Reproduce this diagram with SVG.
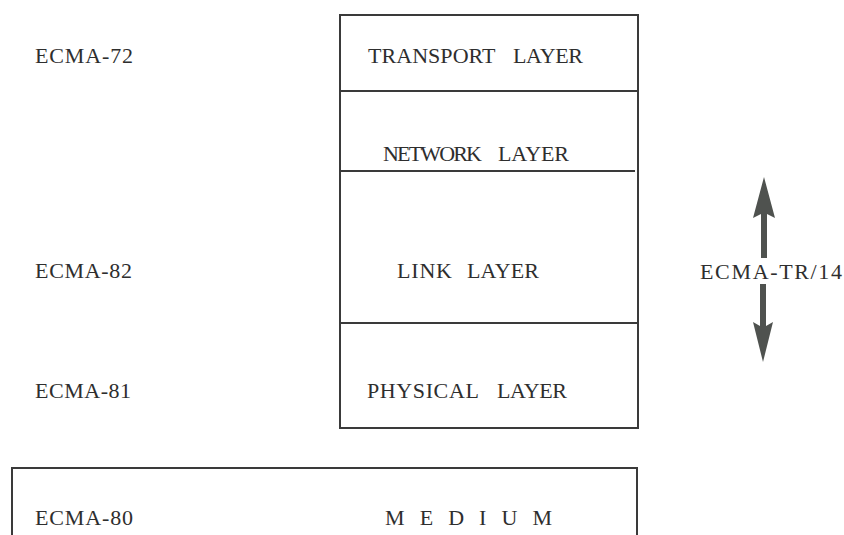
<svg xmlns="http://www.w3.org/2000/svg" width="844" height="535" viewBox="0 0 844 535">
<style>
.t{font-family:"Liberation Serif","Times New Roman",serif;font-size:22px;fill:#2e2e2e}
.b{fill:none;stroke:#3a3a3a;stroke-width:2}
.a{fill:#4f524f}
</style>
<rect width="844" height="535" fill="#ffffff"/>
<g id="stack">
<rect class="b" x="340" y="15" width="298" height="413"/>
<line class="b" x1="340" y1="91" x2="638" y2="91"/>
<line class="b" x1="340" y1="171" x2="635" y2="171"/>
<line class="b" x1="340" y1="323" x2="638" y2="323"/>
</g>
<g id="transport"><text class="t" y="63"><tspan x="368" textLength="127" lengthAdjust="spacing">TRANSPORT</tspan> <tspan x="513" textLength="70" lengthAdjust="spacing">LAYER</tspan></text></g>
<g id="network"><text class="t" y="161"><tspan x="383" textLength="99" lengthAdjust="spacing">NETWORK</tspan> <tspan x="498" textLength="71" lengthAdjust="spacing">LAYER</tspan></text></g>
<g id="link"><text class="t" y="278"><tspan x="397" textLength="55" lengthAdjust="spacing">LINK</tspan> <tspan x="467" textLength="72" lengthAdjust="spacing">LAYER</tspan></text></g>
<g id="physical"><text class="t" y="398"><tspan x="367" textLength="111" lengthAdjust="spacing">PHYSICAL</tspan> <tspan x="497" textLength="70" lengthAdjust="spacing">LAYER</tspan></text></g>
<g id="ecma72"><text class="t" x="35" y="63" textLength="98" lengthAdjust="spacing">ECMA-72</text></g>
<g id="ecma82"><text class="t" x="35" y="278" textLength="97" lengthAdjust="spacing">ECMA-82</text></g>
<g id="ecma81"><text class="t" x="35" y="398" textLength="96" lengthAdjust="spacing">ECMA-81</text></g>
<g id="medium">
<path class="b" d="M12,536 V468 H637 V536"/>
<text class="t" x="35" y="525" textLength="98" lengthAdjust="spacing">ECMA-80</text>
<text class="t" x="385" y="525" textLength="167" lengthAdjust="spacing">M E D I U M</text>
</g>
<g id="connectors">
<path class="a" d="M764,177 L775,218 L767,214 L767,258 L761,258 L761,214 L753,218 Z"/>
<path class="a" d="M760,284 L766,284 L766,326 L773,322 L763,362 L753,322 L760,326 Z"/>
</g>
<g id="tr14"><text class="t" x="700" y="279" textLength="142" lengthAdjust="spacing">ECMA-TR/14</text></g>
</svg>
